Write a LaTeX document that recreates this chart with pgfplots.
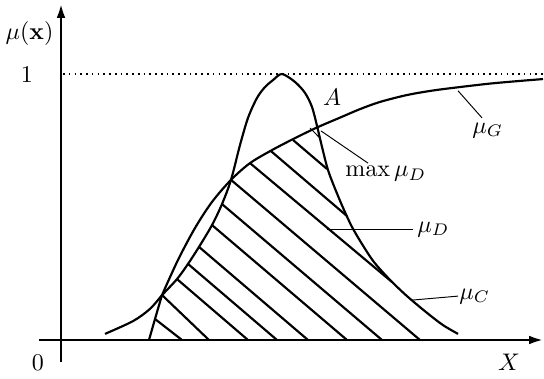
\documentclass[border=0pt]{standalone}
\usepackage{pgfplots}
\pgfplotsset{compat=1.18}
\usetikzlibrary{arrows.meta}
\begin{document}
\begin{tikzpicture}
\begin{axis}[
  x=0.41667pt, y=110.833pt,
  axis lines=middle,
  xmin=-22, xmax=483, ymin=-0.0827, ymax=1.267,
  xtick=\empty, ytick=\empty,
  axis line style={line width=1.2pt, -{Latex[length=6.2pt,width=3.6pt]}},
  clip=false,
  enlargelimits=false,
]
% dotted level 1
\addplot[line width=0.7pt, dash pattern=on 0.7pt off 1.7pt] coordinates {(2,1) (483,1)};
% mu_G
\addplot[line width=0.9pt, smooth] coordinates {
 (44,0.023) (72,0.071) (89,0.117) (101,0.169)};
\addplot[line width=0.9pt, smooth] coordinates {
 (101,0.169) (117,0.301) (134,0.421) (151,0.519) (170,0.602) (189,0.665)
 (211,0.714) (234,0.759) (256,0.799) (279,0.836) (299,0.868) (319,0.895)
 (346,0.921) (372,0.938) (399,0.951) (429,0.964) (459,0.974) (482,0.981)};
% mu_C
\addplot[line width=0.9pt, smooth] coordinates {
 (88,0) (94,0.079) (101,0.169)};
\addplot[line width=0.9pt, smooth] coordinates {
 (101,0.169) (116,0.229) (127,0.286) (138,0.350) (151,0.432) (161,0.511)
 (170,0.602) (179,0.733) (187,0.835) (196,0.910) (204,0.951) (212,0.977)
 (221,1.0) (234,0.970) (244,0.929) (251,0.876) (256,0.805) (261,0.726)
 (267,0.639) (275,0.560) (283,0.489) (291,0.425) (301,0.361) (313,0.293)
 (329,0.226) (346,0.165) (366,0.102) (382,0.056) (397,0.023)};
% hatching of mu_D = min(mu_G, mu_C)
\addplot[line width=0.9pt] coordinates {(94,0.079) (121,0)};
\addplot[line width=0.9pt] coordinates {(101,0.169) (148,0)};
\addplot[line width=0.9pt] coordinates {(116,0.229) (187,0)};
\addplot[line width=0.9pt] coordinates {(127,0.286) (216,0)};
\addplot[line width=0.9pt] coordinates {(138,0.350) (247,0)};
\addplot[line width=0.9pt] coordinates {(151,0.432) (286,0)};
\addplot[line width=0.9pt] coordinates {(161,0.511) (321,0)};
\addplot[line width=0.9pt] coordinates {(170,0.602) (359,0)};
\addplot[line width=0.9pt] coordinates {(189,0.665) (331,0.218)};
\addplot[line width=0.9pt] coordinates {(210,0.710) (286,0.466)};
\addplot[line width=0.9pt] coordinates {(232,0.752) (266,0.643)};
\addplot[line width=0.4pt] coordinates {(249,0.797) (259,0.759)};
% leaders
\addplot[line width=0.4pt] coordinates {(397,0.937) (421,0.835)};
\addplot[line width=0.4pt] coordinates {(260,0.786) (307,0.665)};
\addplot[line width=0.4pt] coordinates {(266,0.417) (352,0.417)};
\addplot[line width=0.4pt] coordinates {(351,0.150) (397,0.165)};
% labels
\node at (axis cs:-31.5,1.154) {$\mu(\mathbf{x})$};
\node at (axis cs:-34,0.996) {$1$};
\node at (axis cs:-23,-0.086) {$0$};
\node at (axis cs:448,-0.083) {$X$};
\node at (axis cs:271,0.914) {$A$};
\node[anchor=base west, inner sep=0pt] at (axis cs:284,0.613) {$\max\mu_D$};
\node[anchor=base west, inner sep=0pt] at (axis cs:356,0.406) {$\mu_D$};
\node[anchor=base west, inner sep=0pt] at (axis cs:398,0.154) {$\mu_C$};
\node[anchor=base west, inner sep=0pt] at (axis cs:411,0.778) {$\mu_G$};
\coordinate (bbl) at (axis cs:-61,-0.1429);
\coordinate (btr) at (axis cs:483,1.2782);
\end{axis}
\pgfresetboundingbox
\path[use as bounding box] (bbl) rectangle (btr);
\end{tikzpicture}
\end{document}
